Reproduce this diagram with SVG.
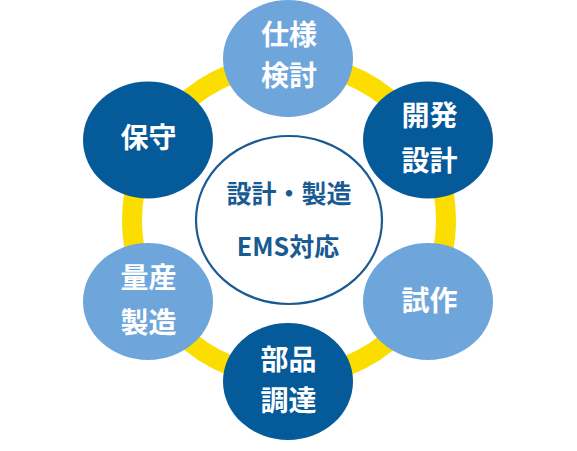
<svg xmlns="http://www.w3.org/2000/svg" width="577" height="451" viewBox="0 0 577 451">
<style>
.dark{fill:#055A9A}
.light{fill:#6EA6DC}
.t{font-family:"Noto Sans CJK JP","Noto Sans",sans-serif;font-weight:700;font-size:28px;fill:#ffffff;text-anchor:middle}
.c{font-family:"Noto Sans CJK JP","Noto Sans",sans-serif;font-weight:700;font-size:25px;fill:#1A5A93;text-anchor:middle}
</style>
<rect width="577" height="451" fill="#ffffff"/>
<g id="connectors">
<circle cx="289" cy="220" r="157" fill="none" stroke="#FBDE00" stroke-width="20"/>
</g>
<g id="node-shiyou">
<ellipse class="light" cx="288" cy="58.5" rx="65" ry="58.5"/>
<text class="t" x="289" y="44.5">仕様</text>
<text class="t" x="289" y="86">検討</text>
</g>
<g id="node-kaihatsu">
<ellipse class="dark" cx="428" cy="140" rx="65" ry="58.5"/>
<text class="t" x="429.5" y="126">開発</text>
<text class="t" x="429.5" y="171">設計</text>
</g>
<g id="node-shisaku">
<ellipse class="light" cx="428" cy="301.5" rx="65" ry="58.5"/>
<text class="t" x="429.5" y="311">試作</text>
</g>
<g id="node-buhin">
<ellipse class="dark" cx="288" cy="381.5" rx="65" ry="58.5"/>
<text class="t" x="288.5" y="370">部品</text>
<text class="t" x="288.5" y="411">調達</text>
</g>
<g id="node-ryousan">
<ellipse class="light" cx="148" cy="301.5" rx="65" ry="58.5"/>
<text class="t" x="148.5" y="288">量産</text>
<text class="t" x="148.5" y="333">製造</text>
</g>
<g id="node-hoshu">
<ellipse class="dark" cx="148" cy="140" rx="65" ry="58.5"/>
<text class="t" x="148.5" y="148">保守</text>
</g>
<g id="node-center">
<ellipse cx="289" cy="220" rx="93" ry="84" fill="#ffffff" stroke="#1A5A93" stroke-width="2.2"/>
<text class="c" x="289" y="202.5">設計・製造</text>
<text class="c" x="288" y="255.5">EMS対応</text>
</g>
</svg>
